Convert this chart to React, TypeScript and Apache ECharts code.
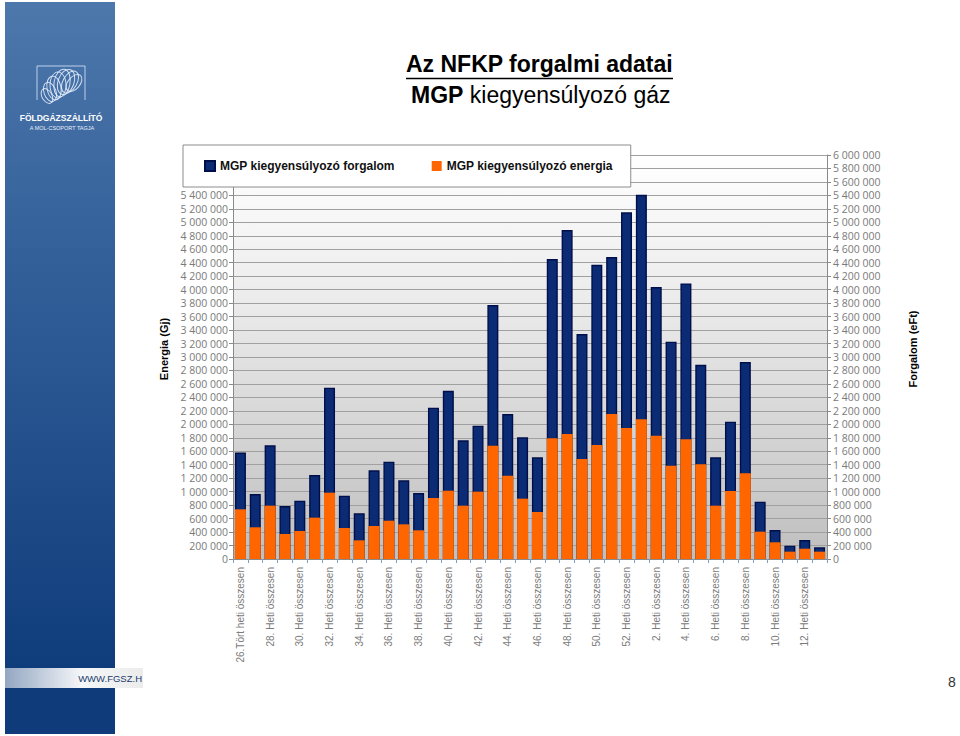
import React, { useEffect, useRef } from "react";
import * as echarts from "echarts";

const weeks = [
  "26.Tört heti összesen", "27. Heti összesen", "28. Heti összesen", "29. Heti összesen",
  "30. Heti összesen", "31. Heti összesen", "32. Heti összesen", "33. Heti összesen",
  "34. Heti összesen", "35. Heti összesen", "36. Heti összesen", "37. Heti összesen",
  "38. Heti összesen", "39. Heti összesen", "40. Heti összesen", "41. Heti összesen",
  "42. Heti összesen", "43. Heti összesen", "44. Heti összesen", "45. Heti összesen",
  "46. Heti összesen", "47. Heti összesen", "48. Heti összesen", "49. Heti összesen",
  "50. Heti összesen", "51. Heti összesen", "52. Heti összesen", "1. Heti összesen",
  "2. Heti összesen", "3. Heti összesen", "4. Heti összesen", "5. Heti összesen",
  "6. Heti összesen", "7. Heti összesen", "8. Heti összesen", "9. Heti összesen",
  "10. Heti összesen", "11. Heti összesen", "12. Heti összesen", "13. Heti összesen",
];

// MGP kiegyensúlyozó forgalom (eFt) – right axis
const forgalom = [
  1580000, 965000, 1688000, 787000, 866000, 1247000, 2544000, 940000,
  678000, 1317000, 1445000, 1168000, 980000, 2247000, 2499000, 1762000,
  1980000, 3771000, 2153000, 1807000, 1510000, 4454000, 4885000, 3341000,
  4370000, 4484000, 5148000, 5409000, 4039000, 3227000, 4093000, 2885000,
  1510000, 2039000, 2925000, 851000, 431000, 198000, 282000, 173000,
];

// MGP kiegyensúlyozó energia (Gj) – left axis
const energia = [
  738000, 471000, 792000, 371000, 416000, 614000, 985000, 460000,
  277000, 490000, 569000, 515000, 426000, 906000, 1014000, 792000,
  1000000, 1683000, 1237000, 896000, 698000, 1792000, 1856000, 1485000,
  1693000, 2153000, 1945000, 2074000, 1831000, 1386000, 1777000, 1406000,
  792000, 1010000, 1272000, 406000, 248000, 109000, 153000, 109000,
];

const seriesNames = ["MGP kiegyensúlyozó forgalom", "MGP kiegyensúlyozó energia"];
const leftAxisName = "Energia (Gj)";
const rightAxisName = "Forgalom (eFt)";
const leftAxisLabelMax = 5400000;
const axisMax = 6000000;
const axisInterval = 200000;

const fmt = (v: number) => String(v).replace(/\B(?=(\d{3})+(?!\d))/g, " ");

export default function App() {
  const ref = useRef<HTMLDivElement>(null);
  useEffect(() => {
    document.body.style.margin = "0";
    if (!ref.current) return;
    const chart = echarts.init(ref.current, undefined, { renderer: "svg" });

    const shell: any[] = [];
    const loops = [
      [47, 96, 5, 8, -30],
      [50, 92, 6, 10, -20],
      [54, 88, 7, 12, -10],
      [58, 85, 8, 13, 0],
      [62, 83, 8, 14, 10],
      [66, 82, 8, 13, 20],
      [70, 82, 7, 12, 30],
      [74, 83, 6, 10, 40],
    ];
    loops.forEach(([cx, cy, rx, ry, rot]) => {
      shell.push({
        type: "ellipse",
        shape: { cx: 0, cy: 0, rx, ry },
        x: cx,
        y: cy,
        rotation: (-rot * Math.PI) / 180,
        style: { fill: "none", stroke: "rgba(235,242,255,0.85)", lineWidth: 1 },
        silent: true,
      });
    });

    const option: any = {
      animation: false,
      textStyle: { fontFamily: "Liberation Sans" },
      title: [
        {
          text: "Az NFKP forgalmi adatai",
          left: 406,
          top: 52,
          padding: 0,
          textStyle: { fontSize: 23, fontWeight: "bold", color: "#000", fontFamily: "Liberation Sans" },
        },
        {
          text: "{b|MGP} kiegyensúlyozó gáz",
          left: 411,
          top: 83,
          padding: 0,
          textStyle: {
            fontSize: 23,
            fontWeight: "normal",
            color: "#000",
            fontFamily: "Liberation Sans",
            rich: { b: { fontSize: 23, fontWeight: "bold", color: "#000", fontFamily: "Liberation Sans" } },
          },
        },
      ],
      legend: {
        data: seriesNames,
        left: 183,
        top: 145,
        z: 10,
        padding: [15, 18, 15, 21],
        itemGap: 37,
        itemWidth: 10,
        itemHeight: 10,
        backgroundColor: "#ffffff",
        borderColor: "#8c8c8c",
        borderWidth: 1,
        icon: "rect",
        textStyle: { fontSize: 12, fontWeight: "bold", color: "#111", fontFamily: "Liberation Sans" },
      },
      grid: {
        left: 233,
        right: 133,
        top: 155,
        bottom: 177,
        show: true,
        borderWidth: 0,
        backgroundColor: new echarts.graphic.LinearGradient(0, 0, 0, 1, [
          { offset: 0, color: "#ffffff" },
          { offset: 0.35, color: "#ececec" },
          { offset: 1, color: "#bfbfbf" },
        ]),
      },
      xAxis: {
        type: "category",
        data: weeks,
        axisLine: { lineStyle: { color: "#8a8a8a" } },
        axisTick: { show: true, interval: 0, length: 4, lineStyle: { color: "#7f9fc8" } },
        axisLabel: {
          interval: 1,
          rotate: 90,
          margin: 8,
          fontSize: 10,
          color: "#7a7a7a",
          fontFamily: "Liberation Sans",
        },
      },
      yAxis: [
        {
          type: "value",
          min: 0,
          max: axisMax,
          interval: axisInterval,
          position: "left",
          name: leftAxisName,
          nameLocation: "middle",
          nameGap: 62,
          nameTextStyle: { fontSize: 11, fontWeight: "bold", color: "#000", fontFamily: "Liberation Sans", padding: [0, 0, 0, 16] },
          axisLine: { show: true, lineStyle: { color: "#8a8a8a" } },
          axisTick: { show: true, length: 4, lineStyle: { color: "#8a8a8a" } },
          splitLine: { show: false },
          axisLabel: {
            fontSize: 10.5,
            color: "#7a7a7a",
            margin: 5,
            fontFamily: "Open Sans",
            formatter: (v: number) => (v > leftAxisLabelMax ? "" : fmt(v)),
          },
        },
        {
          type: "value",
          min: 0,
          max: axisMax,
          interval: axisInterval,
          position: "right",
          name: rightAxisName,
          nameLocation: "middle",
          nameGap: 80,
          nameRotate: 90,
          nameTextStyle: { fontSize: 11, fontWeight: "bold", color: "#000", fontFamily: "Liberation Sans", padding: [0, 0, 0, 16] },
          axisLine: { show: true, lineStyle: { color: "#8a8a8a" } },
          axisTick: { show: true, length: 4, lineStyle: { color: "#8a8a8a" } },
          splitLine: { show: true, lineStyle: { color: "#a0a0a0", width: 1 } },
          axisLabel: {
            fontSize: 10.5,
            color: "#7a7a7a",
            margin: 6,
            fontFamily: "Open Sans",
            formatter: (v: number) => fmt(v),
          },
        },
      ],
      series: [
        {
          name: seriesNames[0],
          type: "bar",
          yAxisIndex: 1,
          data: forgalom,
          barWidth: 11,
          barGap: "-100%",
          itemStyle: { color: "#0b2b75", borderColor: "#000f4a", borderWidth: 1.4 },
        },
        {
          name: seriesNames[1],
          type: "bar",
          yAxisIndex: 0,
          data: energia,
          barWidth: 11,
          barGap: "-100%",
          itemStyle: { color: "#ff6600" },
        },
      ],
      graphic: [
        {
          type: "rect",
          shape: { x: 5, y: 2, width: 110, height: 666 },
          style: {
            fill: new echarts.graphic.LinearGradient(0, 0, 0, 1, [
              { offset: 0, color: "#4c78ac" },
              { offset: 0.4, color: "#335f99" },
              { offset: 1, color: "#0f3c7b" },
            ]),
          },
          silent: true,
          z: -10,
        },
        {
          type: "rect",
          shape: { x: 5, y: 668, width: 138, height: 20 },
          style: {
            fill: new echarts.graphic.LinearGradient(0, 0, 1, 0, [
              { offset: 0, color: "#93a6c2" },
              { offset: 0.55, color: "#f4f6f8" },
              { offset: 1, color: "#ececec" },
            ]),
          },
          silent: true,
          z: -10,
        },
        {
          type: "rect",
          shape: { x: 5, y: 688, width: 110, height: 46 },
          style: { fill: "#0f3b7a" },
          silent: true,
          z: -10,
        },
        {
          type: "text",
          x: 142,
          y: 678,
          style: {
            text: "WWW.FGSZ.H",
            fill: "#1c3b6c",
            fontSize: 9.5,
            fontFamily: "Liberation Sans",
            align: "right",
            verticalAlign: "middle",
          },
          silent: true,
        },
        {
          type: "polyline",
          shape: { points: [[37, 100], [37, 66], [85, 66], [85, 100]] },
          style: { stroke: "rgba(220,232,250,0.8)", lineWidth: 1, fill: "none" },
          silent: true,
        },
        { type: "group", children: shell, silent: true },
        {
          type: "text",
          x: 61,
          y: 118,
          style: {
            text: "FÖLDGÁZSZÁLLÍTÓ",
            fill: "#ffffff",
            fontSize: 8.5,
            fontWeight: "bold",
            fontFamily: "Liberation Sans",
            align: "center",
            verticalAlign: "middle",
          },
          silent: true,
        },
        {
          type: "text",
          x: 62,
          y: 128,
          style: {
            text: "A MOL-CSOPORT TAGJA",
            fill: "#e8eef8",
            fontSize: 5.5,
            fontFamily: "Liberation Sans",
            align: "center",
            verticalAlign: "middle",
          },
          silent: true,
        },
        {
          type: "line",
          shape: { x1: 406, y1: 78.5, x2: 673, y2: 78.5 },
          style: { stroke: "#000", lineWidth: 1.5 },
          silent: true,
        },
        {
          type: "text",
          x: 952,
          y: 682,
          style: {
            text: "8",
            fill: "#333",
            fontSize: 14,
            fontFamily: "Liberation Sans",
            align: "center",
            verticalAlign: "middle",
          },
          silent: true,
        },
      ],
    };
    chart.setOption(option);
    return () => chart.dispose();
  }, []);
  return <div ref={ref} style={{ width: 960, height: 736 }} />;
}
